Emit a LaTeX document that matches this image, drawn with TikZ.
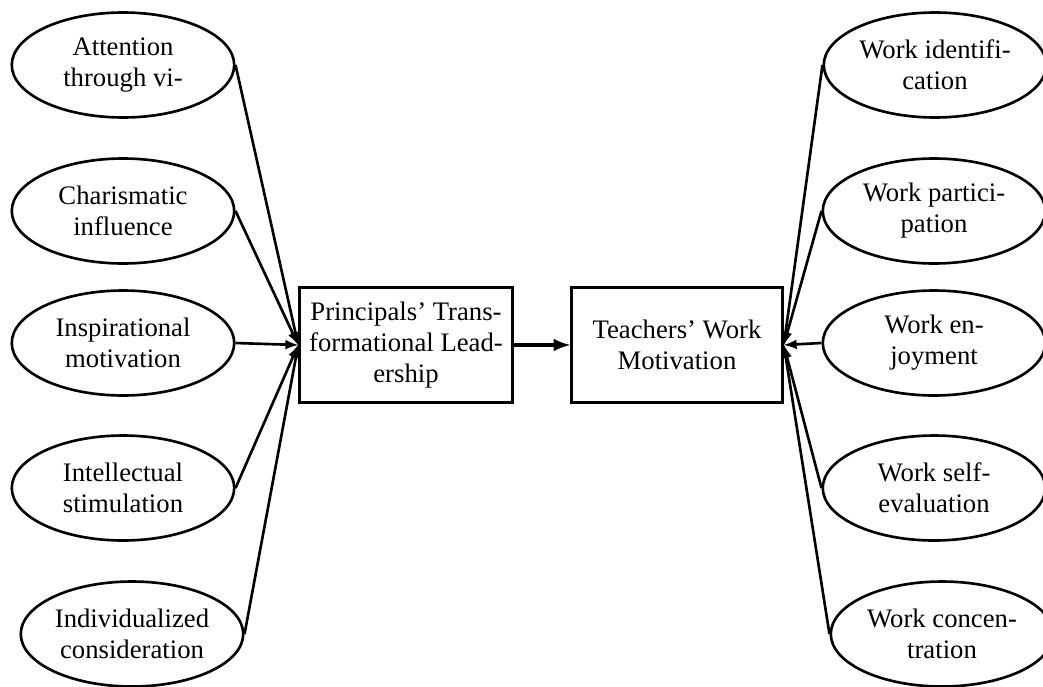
\documentclass[tikz,border=0pt]{standalone}
\usepackage{fontspec}
\setmainfont{Liberation Serif}
\usetikzlibrary{shapes.geometric}

\begin{document}
\begin{tikzpicture}[x=0.02cm,y=-0.02cm,>=latex,
  ell/.style={draw, ellipse, line width=1.5pt, minimum width=4.45cm, minimum height=2.1cm, inner sep=0pt, align=center},
  box/.style={draw, rectangle, line width=1.5pt, minimum height=2.3cm, inner sep=0pt, align=center},
  link/.style={draw, line width=1.5pt, ->}]
\fontsize{15.2}{17.6}\selectfont
\useasboundingbox (0,0) rectangle (1043,686);
\node[ell] (l1) at (123,65) {Attention\\through vi-};
\node[ell] (l2) at (123,211) {Charismatic\\influence};
\node[ell] (l3) at (123,343) {Inspirational\\motivation};
\node[ell] (l4) at (123,488) {Intellectual\\stimulation};
\node[ell] (l5) at (132,634) {Individualized\\consideration};
\node[ell] (r1) at (935,65) {Work identifi-\\cation};
\node[ell] (r2) at (934,211) {Work partici-\\pation};
\node[ell] (r3) at (934,343) {Work en-\\joyment};
\node[ell] (r4) at (934,488) {Work self-\\evaluation};
\node[ell] (r5) at (942,634) {Work concen-\\tration};
\node[box, minimum width=4.26cm] (tl) at (406,345) {Principals’ Trans-\\formational Lead-\\ership};
\node[box, minimum width=4.22cm] (wm) at (677,345) {Teachers’ Work\\Motivation};
\path[link, line width=2.2pt] (tl) -- (wm);
\path[link] (l1.east) -- (tl.west);
\path[link] (l2.east) -- (tl.west);
\path[link] (l3.east) -- (tl.west);
\path[link] (l4.east) -- (tl.west);
\path[link] (l5.east) -- (tl.west);
\path[link] (r1.west) -- (wm.east);
\path[link] (r2.west) -- (wm.east);
\path[link] (r3.west) -- (wm.east);
\path[link] (r4.west) -- (wm.east);
\path[link] (r5.west) -- (wm.east);
\end{tikzpicture}
\end{document}
